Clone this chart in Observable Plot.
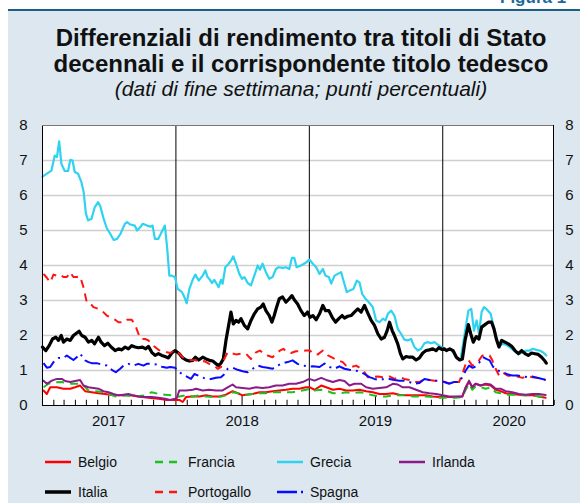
<!DOCTYPE html>
<html><head><meta charset="utf-8">
<script src="https://cdn.jsdelivr.net/npm/d3@7"></script>
<script src="https://cdn.jsdelivr.net/npm/@observablehq/plot@0.6"></script>
<style>
body{margin:0;background:#fff;font-family:"Liberation Sans",Arial,Helvetica,sans-serif;}
#wrap{position:relative;width:580px;height:503px;overflow:hidden;}
#panel{position:absolute;left:8px;top:9px;width:580px;height:500px;background:#dce7f0;border-top:2px solid #1b5e86;}
#fig{position:absolute;left:500px;top:-12px;font-weight:bold;color:#1b6a9a;font-size:17px;line-height:20px;white-space:nowrap;}
.tl{position:absolute;left:22px;width:558px;text-align:center;font-weight:bold;font-size:24px;line-height:24px;color:#111;}
#t1{top:26px;}
#t2{top:51.5px;}
#sub{position:absolute;left:22px;width:558px;top:79px;text-align:center;font-style:italic;font-size:21px;line-height:20px;color:#111;}
#chart{position:absolute;left:0;top:110px;}
#legend{position:absolute;left:0;top:440px;}
</style></head>
<body><div id="wrap">
<div id="panel"></div>
<div id="fig">Figura 1</div>
<div class="tl" id="t1">Differenziali di rendimento tra titoli di Stato</div>
<div class="tl" id="t2">decennali e il corrispondente titolo tedesco</div>
<div id="sub">(dati di fine settimana; punti percentuali)</div>
<div id="chart"></div>
<svg id="legend" width="580" height="63"></svg>
</div>
<script>
// time is in months since 1 Jan 2017; values in percentage points
const belgio = [[0.09,0.43],[0.39,0.33],[0.69,0.52],[1.29,0.52],[1.89,0.48],[2.49,0.48],[2.93,0.52],[3.38,0.57],[3.83,0.41],[4.43,0.38],[5.03,0.35],[5.63,0.33],[6.38,0.29],[7.13,0.29],[7.87,0.29],[8.62,0.26],[9.52,0.22],[10.42,0.19],[11.17,0.16],[11.92,0.16],
[12.3,0.16],[12.6,0.1],[12.9,0.24],[13.5,0.26],[14.1,0.26],[14.69,0.29],[15.29,0.26],[15.89,0.26],[16.49,0.31],[17.09,0.41],[17.54,0.35],[17.99,0.29],[18.29,0.31],[18.89,0.33],[19.49,0.38],[20.08,0.38],[20.68,0.41],[21.28,0.43],[21.88,0.45],[22.48,0.48],[23.08,0.48],[23.68,0.52],[24.04,0.52],
[24.45,0.45],[25.05,0.57],[25.5,0.52],[26.1,0.45],[26.69,0.48],[27.29,0.43],[27.89,0.43],[28.49,0.45],[29.09,0.41],[29.69,0.38],[30.29,0.33],[30.89,0.33],[31.49,0.35],[32.08,0.31],[32.68,0.29],[33.28,0.29],[33.88,0.29],[34.48,0.29],[35.08,0.26],[35.68,0.24],[36.13,0.24],
[36.54,0.24],[37.14,0.24],[37.74,0.26],[38.04,0.52],[38.34,0.67],[38.63,0.52],[38.93,0.62],[39.38,0.57],[39.83,0.6],[40.28,0.57],[40.73,0.45],[41.18,0.41],[41.63,0.35],[42.23,0.33],[42.83,0.31],[43.43,0.29],[44.02,0.29],[44.62,0.26],[45.22,0.22]];

const francia = [[0.09,0.52],[0.54,0.62],[1.0,0.66],[1.74,0.67],[2.63,0.62],[3.53,0.62],[4.13,0.43],[5.63,0.38],[6.53,0.26],[7.43,0.29],[8.32,0.26],[9.22,0.29],[9.82,0.38],[10.42,0.33],[11.02,0.31],[11.62,0.29],[11.92,0.24],
[12.3,0.26],[12.9,0.29],[13.5,0.26],[14.1,0.29],[14.69,0.26],[15.29,0.24],[15.89,0.24],[16.49,0.29],[17.09,0.38],[17.69,0.35],[18.29,0.31],[18.89,0.33],[19.49,0.35],[20.08,0.35],[20.68,0.38],[21.28,0.38],[21.88,0.38],[22.48,0.38],[23.08,0.41],[23.68,0.45],[24.04,0.48],
[24.45,0.43],[25.05,0.45],[25.5,0.43],[26.1,0.35],[26.69,0.35],[27.29,0.38],[27.89,0.35],[28.49,0.38],[29.09,0.35],[29.69,0.29],[30.29,0.26],[30.89,0.26],[31.49,0.29],[32.08,0.29],[32.68,0.29],[33.28,0.26],[33.88,0.26],[34.48,0.26],[35.08,0.24],[35.68,0.22],[36.13,0.22],
[36.54,0.22],[37.14,0.22],[37.74,0.24],[38.04,0.45],[38.34,0.62],[38.63,0.45],[38.93,0.54],[39.38,0.52],[39.83,0.48],[40.28,0.52],[40.73,0.38],[41.18,0.35],[41.63,0.31],[42.23,0.31],[42.83,0.29],[43.43,0.29],[44.02,0.29],[44.62,0.26],[45.22,0.26]];

const grecia = [[0,6.54],[0.8,6.71],[1.1,7.14],[1.3,7.1],[1.5,7.55],[1.7,6.9],[2.0,6.7],[2.3,6.7],[2.5,7.02],[2.7,7.0],[2.9,6.67],[3.2,6.62],[3.5,6.38],[3.7,6.1],[3.9,5.48],[4.1,5.29],[4.4,5.33],[4.7,5.67],[5.0,5.81],[5.2,5.69],[5.5,5.33],[5.8,5.05],[6.1,4.9],[6.4,4.73],[6.7,4.76],[7.0,4.9],[7.4,5.19],[7.6,5.24],[7.9,5.17],[8.3,5.14],[8.5,5.0],[8.8,5.1],[9.0,5.19],[9.4,5.14],[9.7,5.11],[9.9,5.14],[10.1,4.76],[10.4,4.76],[10.7,4.95],[11.0,5.14],[11.2,4.52],[11.4,3.71],[11.6,3.71],[11.9,3.67],[12.15,3.33],
[12.54,3.24],[12.75,3.1],[12.96,2.92],[13.2,3.33],[13.5,3.59],[13.74,3.74],[14.04,3.57],[14.4,3.71],[14.63,3.86],[14.84,3.67],[15.05,3.59],[15.23,3.5],[15.44,3.59],[15.65,3.48],[15.83,3.38],[16.04,3.59],[16.19,3.48],[16.43,3.95],[16.73,4.05],[16.94,4.14],[17.15,4.26],[17.39,4.05],[17.69,3.76],[17.93,3.62],[18.14,3.67],[18.44,3.5],[18.74,3.43],[19.04,3.71],[19.34,4.0],[19.54,3.88],[19.78,4.05],[20.08,3.81],[20.38,3.62],[20.68,3.67],[20.98,3.9],[21.22,3.95],[21.58,3.93],[21.88,3.95],[22.18,3.9],[22.42,4.22],[22.63,4.22],[22.84,3.95],[23.23,4.0],[23.62,4.07],[23.98,4.17],
[24.3,4.05],[24.6,3.95],[24.9,3.76],[25.2,3.9],[25.44,3.71],[25.74,3.67],[25.95,3.48],[26.25,3.71],[26.54,3.76],[26.84,3.81],[27.05,3.57],[27.35,3.24],[27.65,3.29],[27.95,3.33],[28.25,3.57],[28.49,3.52],[28.73,3.19],[29.03,3.05],[29.33,2.95],[29.69,2.81],[29.99,2.43],[30.29,2.38],[30.59,2.48],[30.83,2.43],[31.04,2.62],[31.34,2.71],[31.63,2.57],[31.93,2.19],[32.23,2.05],[32.53,1.88],[32.83,1.86],[33.13,1.9],[33.43,1.67],[33.73,1.57],[34.03,1.62],[34.33,1.78],[34.63,1.81],[34.93,1.78],[35.23,1.81],[35.53,1.74],[35.83,1.67],[36.0,1.64],
[36.39,1.59],[36.69,1.62],[36.99,1.48],[37.29,1.33],[37.59,1.33],[37.8,1.76],[38.04,2.24],[38.28,2.71],[38.54,2.76],[38.78,2.14],[39.02,2.43],[39.23,2.05],[39.47,2.67],[39.68,2.81],[39.98,2.73],[40.28,2.62],[40.49,2.33],[40.73,2.05],[41.03,1.67],[41.33,1.76],[41.63,1.74],[41.99,1.67],[42.29,1.59],[42.59,1.52],[42.89,1.48],[43.19,1.52],[43.49,1.57],[43.78,1.57],[44.08,1.62],[44.38,1.59],[44.68,1.57],[44.98,1.52],[45.28,1.43]];

const irlanda = [[0.09,0.71],[0.39,0.62],[0.84,0.71],[1.29,0.76],[1.74,0.76],[2.04,0.7],[2.49,0.67],[2.93,0.7],[3.38,0.73],[3.68,0.57],[4.13,0.52],[4.58,0.5],[5.03,0.48],[5.48,0.41],[5.93,0.38],[6.38,0.33],[6.83,0.29],[7.28,0.31],[7.72,0.33],[8.17,0.29],[8.62,0.26],[9.22,0.24],[9.82,0.24],[10.42,0.22],[11.02,0.19],[11.47,0.16],[11.92,0.19],
[12.05,0.2],[12.3,0.43],[12.9,0.43],[13.5,0.45],[13.8,0.48],[14.4,0.43],[14.99,0.45],[15.59,0.43],[16.19,0.43],[16.64,0.52],[17.09,0.6],[17.39,0.52],[17.99,0.5],[18.59,0.48],[19.19,0.52],[19.78,0.5],[20.38,0.52],[20.98,0.57],[21.58,0.57],[22.18,0.62],[22.78,0.62],[23.38,0.67],[23.98,0.76],
[24.45,0.71],[25.05,0.79],[25.5,0.73],[26.1,0.67],[26.69,0.73],[27.14,0.7],[27.59,0.57],[28.04,0.62],[28.64,0.62],[29.09,0.52],[29.69,0.48],[30.29,0.5],[30.89,0.52],[31.49,0.62],[31.93,0.6],[32.38,0.52],[32.98,0.52],[33.58,0.45],[34.18,0.38],[34.78,0.35],[35.38,0.33],[35.98,0.29],
[36.54,0.26],[37.14,0.26],[37.74,0.26],[38.04,0.52],[38.34,0.71],[38.63,0.52],[38.93,0.62],[39.38,0.57],[39.83,0.62],[40.28,0.6],[40.73,0.48],[41.18,0.48],[41.63,0.41],[42.23,0.38],[42.83,0.33],[43.43,0.31],[44.02,0.33],[44.62,0.33],[45.22,0.3]];

const italia = [[0,1.67],[0.3,1.57],[0.6,1.71],[0.9,1.9],[1.2,1.95],[1.44,1.86],[1.68,2.0],[1.89,1.81],[2.19,1.9],[2.49,1.86],[2.78,2.0],[2.99,2.05],[3.29,2.12],[3.53,2.0],[3.83,1.95],[4.13,1.81],[4.43,1.86],[4.67,1.76],[5.03,1.95],[5.27,1.81],[5.57,1.71],[5.87,1.78],[6.17,1.67],[6.53,1.57],[6.83,1.62],[7.13,1.59],[7.43,1.67],[7.72,1.62],[8.02,1.71],[8.32,1.67],[8.62,1.65],[8.98,1.67],[9.28,1.62],[9.52,1.69],[9.82,1.52],[10.12,1.43],[10.42,1.48],[10.72,1.43],[11.02,1.4],[11.32,1.36],[11.62,1.5],[11.92,1.57],
[12.3,1.48],[12.6,1.36],[12.9,1.3],[13.2,1.27],[13.5,1.29],[13.74,1.38],[14.04,1.3],[14.4,1.38],[14.7,1.33],[15.0,1.29],[15.3,1.27],[15.6,1.19],[15.83,1.14],[16.04,1.21],[16.25,1.33],[16.49,1.86],[16.73,2.29],[16.94,2.67],[17.15,2.33],[17.39,2.43],[17.63,2.38],[17.84,2.48],[18.14,2.29],[18.44,2.19],[18.74,2.43],[19.04,2.62],[19.34,2.76],[19.63,2.81],[19.84,2.9],[20.08,2.71],[20.38,2.57],[20.62,2.38],[20.83,2.57],[21.04,2.81],[21.28,3.05],[21.58,3.1],[21.88,2.95],[22.18,3.05],[22.42,3.14],[22.63,3.02],[22.93,2.9],[23.23,2.71],[23.53,2.57],[23.83,2.67],[24.04,2.52],
[24.3,2.57],[24.6,2.45],[24.9,2.62],[25.2,2.86],[25.44,2.71],[25.74,2.71],[26.04,2.52],[26.34,2.38],[26.63,2.48],[26.93,2.57],[27.14,2.5],[27.44,2.55],[27.74,2.57],[28.04,2.67],[28.34,2.76],[28.64,2.67],[28.94,2.86],[29.24,2.64],[29.54,2.43],[29.84,2.29],[30.14,2.05],[30.44,1.9],[30.74,1.95],[30.98,2.14],[31.19,2.38],[31.43,2.14],[31.63,2.0],[31.93,1.76],[32.17,1.48],[32.38,1.33],[32.68,1.4],[32.98,1.38],[33.28,1.38],[33.58,1.3],[33.88,1.36],[34.18,1.5],[34.48,1.57],[34.78,1.59],[35.08,1.62],[35.38,1.57],[35.62,1.65],[35.92,1.6],[36.1,1.62],
[36.3,1.57],[36.6,1.62],[36.9,1.57],[37.2,1.38],[37.5,1.3],[37.74,1.33],[37.98,1.86],[38.28,2.31],[38.49,2.05],[38.72,1.81],[38.99,1.97],[39.23,1.9],[39.47,2.24],[39.77,2.31],[40.07,2.38],[40.37,2.38],[40.58,2.19],[40.79,1.9],[41.03,1.67],[41.27,1.86],[41.57,1.81],[41.87,1.76],[42.17,1.69],[42.47,1.57],[42.77,1.48],[43.07,1.57],[43.37,1.48],[43.66,1.43],[43.96,1.5],[44.26,1.48],[44.56,1.46],[44.86,1.38],[45.16,1.27],[45.28,1.21]];

const portogallo = [[0.09,3.76],[0.39,3.65],[0.69,3.52],[0.99,3.74],[1.29,3.71],[1.59,3.74],[1.89,3.67],[2.19,3.67],[2.49,3.81],[2.78,3.67],[3.08,3.67],[3.38,3.69],[3.68,3.38],[3.98,2.95],[4.28,2.92],[4.58,2.81],[5.03,2.76],[5.33,2.71],[5.78,2.57],[6.08,2.52],[6.53,2.45],[6.83,2.38],[7.28,2.38],[7.57,2.45],[8.02,2.45],[8.32,2.31],[8.62,2.05],[8.86,1.9],[9.22,1.9],[9.52,1.86],[9.82,1.74],[10.12,1.67],[10.42,1.59],[10.72,1.55],[11.17,1.52],[11.47,1.5],[11.92,1.59],
[12.3,1.48],[12.6,1.38],[13.05,1.33],[13.35,1.3],[13.8,1.29],[14.25,1.24],[14.54,1.27],[14.99,1.19],[15.44,1.14],[15.74,1.05],[16.04,1.1],[16.34,1.33],[16.64,1.52],[16.94,1.5],[17.39,1.46],[17.84,1.48],[18.29,1.48],[18.74,1.33],[19.19,1.52],[19.54,1.57],[19.93,1.48],[20.23,1.43],[20.68,1.38],[20.98,1.48],[21.34,1.57],[21.64,1.62],[22.03,1.52],[22.33,1.5],[22.78,1.55],[23.23,1.55],[23.68,1.57],[24.04,1.57],
[24.3,1.48],[24.75,1.46],[25.2,1.57],[25.65,1.43],[26.1,1.36],[26.54,1.29],[26.99,1.24],[27.29,1.14],[27.74,1.1],[28.19,1.14],[28.64,1.05],[28.94,0.95],[29.24,0.81],[29.69,0.81],[30.14,0.83],[30.59,0.81],[31.19,0.83],[31.63,0.76],[32.08,0.81],[32.53,0.76],[32.98,0.73],[33.43,0.67],[33.88,0.67],[34.33,0.76],[34.78,0.73],[35.23,0.71],[35.68,0.71],[36.13,0.67],
[36.54,0.64],[36.99,0.67],[37.44,0.67],[37.74,0.9],[38.04,1.19],[38.28,1.3],[38.63,1.14],[38.93,1.19],[39.23,1.29],[39.53,1.43],[39.83,1.43],[40.19,1.43],[40.43,1.29],[40.73,1.05],[41.03,0.86],[41.33,0.95],[41.78,0.86],[42.23,0.83],[42.68,0.83],[43.13,0.79],[43.57,0.83],[44.02,0.81],[44.47,0.79],[44.92,0.76],[45.22,0.73]];

const spagna = [[0.09,1.21],[0.39,1.08],[0.69,1.1],[0.99,1.24],[1.44,1.36],[1.89,1.36],[2.19,1.43],[2.49,1.36],[2.78,1.3],[3.08,1.38],[3.38,1.48],[3.83,1.29],[4.13,1.24],[4.43,1.21],[4.88,1.21],[5.33,1.17],[5.78,1.14],[6.23,1.02],[6.59,0.95],[6.98,1.05],[7.28,1.14],[7.72,1.19],[8.17,1.14],[8.62,1.19],[9.07,1.14],[9.37,1.19],[9.82,1.19],[10.27,1.17],[10.72,1.11],[11.17,1.08],[11.47,1.1],[11.92,1.08],
[12.3,0.95],[12.75,0.86],[13.05,0.81],[13.35,0.76],[13.65,0.9],[13.95,0.86],[14.34,0.81],[14.69,0.76],[15.14,0.76],[15.59,0.79],[16.04,0.81],[16.34,0.89],[16.64,1.05],[17.09,1.08],[17.54,1.02],[17.99,0.98],[18.44,0.95],[18.89,1.05],[19.34,1.14],[19.78,1.1],[20.23,1.08],[20.68,1.05],[21.13,1.14],[21.58,1.21],[22.03,1.24],[22.48,1.29],[22.93,1.19],[23.38,1.14],[23.98,1.11],
[24.3,1.12],[24.9,1.1],[25.35,1.2],[25.8,1.1],[26.25,1.05],[26.69,1.12],[27.14,1.05],[27.59,1.02],[28.04,1.0],[28.49,0.98],[28.94,0.9],[29.39,0.81],[29.84,0.76],[30.29,0.73],[30.74,0.76],[31.19,0.76],[31.63,0.73],[32.08,0.71],[32.53,0.71],[32.98,0.67],[33.43,0.62],[33.88,0.64],[34.33,0.76],[34.78,0.73],[35.23,0.71],[35.68,0.7],[36.13,0.67],
[36.54,0.62],[36.99,0.67],[37.44,0.67],[37.74,0.81],[38.04,1.0],[38.34,1.14],[38.63,1.08],[38.93,1.11],[39.29,1.24],[39.59,1.38],[39.89,1.33],[40.19,1.29],[40.49,1.11],[40.79,1.02],[41.09,0.98],[41.39,0.95],[41.78,0.89],[42.23,0.86],[42.68,0.86],[43.13,0.83],[43.57,0.81],[44.02,0.83],[44.47,0.79],[44.92,0.76],[45.22,0.73]];

const seriesNames = ["Belgio","Francia","Grecia","Irlanda","Italia","Portogallo","Spagna"];
const yTicks = [0,1,2,3,4,5,6,7,8];
const yearLabels = ["2017","2018","2019","2020"];
const yearBreaks = ["2018","2019","2020"];

// styles
const styles = {
  Belgio:     {stroke:"#ff0000", width:2,   dash:null},
  Francia:    {stroke:"#1fbf1f", width:2,   dash:"8,6"},
  Grecia:     {stroke:"#2fd3f0", width:2.2, dash:null},
  Irlanda:    {stroke:"#8a1c8a", width:2,   dash:null},
  Italia:     {stroke:"#000000", width:3.2, dash:null},
  Portogallo: {stroke:"#ff1414", width:2,   dash:"8,6"},
  Spagna:     {stroke:"#0a0aff", width:2,   dash:"16,5,2,5"}
};
const dataBy = {Belgio:belgio, Francia:francia, Grecia:grecia, Irlanda:irlanda, Italia:italia, Portogallo:portogallo, Spagna:spagna};

const T0 = Date.UTC(2017,0,1), MONTH = 30.4375*864e5;
const toDate = t => new Date(T0 + t*MONTH);
const xStart = toDate(0), xEnd = toDate(45.93);

const months = d3.utcMonths(new Date(Date.UTC(2017,1,1)), new Date(Date.UTC(2020,10,2))).filter(d => d.getUTCMonth() !== 0);
const breaks = yearBreaks.map(y => new Date(Date.UTC(+y,0,1)));
const mids = yearLabels.map(y => ({d: new Date(Date.UTC(+y,6,1)), label: y}));

const lineMarks = seriesNames.map(name => {
  const s = styles[name];
  return Plot.line(dataBy[name], {
    x: p => toDate(p[0]), y: p => p[1],
    stroke: s.stroke, strokeWidth: s.width,
    strokeDasharray: s.dash || undefined,
    strokeLinejoin: "round", strokeLinecap: s.dash ? "butt" : "round"
  });
});

const font = "Liberation Sans, Arial, Helvetica, sans-serif";
const chart = Plot.plot({
  width: 580, height: 330,
  marginTop: 15, marginBottom: 35, marginLeft: 42, marginRight: 27,
  style: {background: "transparent", fontFamily: font, overflow: "visible"},
  x: {type: "utc", domain: [xStart, xEnd], axis: null},
  y: {domain: [0, 8], axis: null},
  marks: [
    Plot.frame({fill: "white", stroke: "none"}),
    Plot.ruleY(yTicks.filter(v => v > 0 && v < 8), {stroke: "#cfcfcf", strokeWidth: 1.3}),
    Plot.ruleX(breaks, {y1: 0, y2: 8, stroke: "#000", strokeWidth: 1}),
    Plot.ruleX(months, {y1: 0, y2: d => d.getUTCMonth() === 6 ? 0.27 : 0.15, stroke: "#000", strokeWidth: 1}),
    ...lineMarks,
    Plot.frame({stroke: "#000", strokeWidth: 1}),
    Plot.ruleY([8], {stroke: "#777", strokeWidth: 1.2}),
    Plot.text(yTicks, {x: () => xStart, y: d => d, text: d => String(d), dx: -19, fontSize: 15, fill: "#111"}),
    Plot.text(yTicks, {x: () => xEnd, y: d => d, text: d => String(d), dx: 16, fontSize: 15, fill: "#111"}),
    Plot.text(mids, {x: "d", y: () => 0, text: "label", dy: 16, fontSize: 15, fill: "#111"})
  ]
});
document.getElementById("chart").appendChild(chart);

// legend
const legendRows = [["Belgio","Francia","Grecia","Irlanda"],["Italia","Portogallo","Spagna"]];
const colX = [45, 155, 277, 399];
const rowY = [22, 52];
const lg = d3.select("#legend");
legendRows.forEach((row, ri) => row.forEach((name, ci) => {
  const s = styles[name];
  const g = lg.append("g").attr("transform", `translate(${colX[ci]},${rowY[ri]})`);
  g.append("line").attr("x1", 0).attr("x2", 26).attr("y1", 0).attr("y2", 0)
    .attr("stroke", s.stroke).attr("stroke-width", name === "Italia" ? 3.5 : 2.5)
    .attr("stroke-dasharray", name === "Spagna" ? "20,4,2,4" : (s.dash ? "8,6" : null));
  g.append("text").attr("x", 33).attr("y", 0).attr("dy", "0.35em")
    .attr("font-size", 14).attr("font-family", font).attr("fill", "#111").text(name);
}));
</script>
</body></html>
